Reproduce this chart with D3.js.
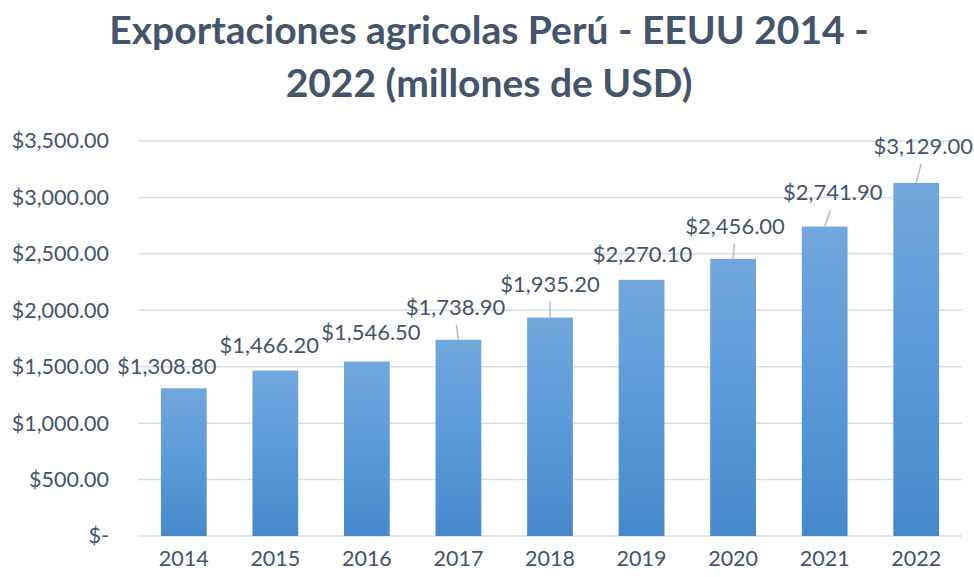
<!DOCTYPE html>
<html>
<head>
<meta charset="utf-8">
<script src="https://cdn.jsdelivr.net/npm/d3@7"></script>
<style>
  body { margin: 0; background: #fff; }
  text { font-family: Lato, "Open Sans", sans-serif; fill: #44546A; }
</style>
</head>
<body>
<div id="chart"></div>
<script>
let width = 974;
let height = 577;

// data
let years = ["2014", "2015", "2016", "2017", "2018", "2019", "2020", "2021", "2022"];
let exports = [1308.8, 1466.2, 1546.5, 1738.9, 1935.2, 2270.1, 2456.0, 2741.9, 3129.0];
let yTicks = [0, 500, 1000, 1500, 2000, 2500, 3000, 3500];
let titleLines = ["Exportaciones agricolas Perú - EEUU 2014 -", "2022 (millones de USD)"];

// manual label placement (px, relative to bar top centre), like Excel dragged labels
let labelShift = [[-17, -22], [-6, -25], [4, -29], [-3, -33], [0, -34], [1, -26], [2, -33], [8, -34], [7, -37]];

let svg = d3.select("#chart")
	.append("svg")
	.attr("width", width).attr("height", height);

let x = d3.scaleBand().domain(years).range([138, 962]).paddingInner(0.5).paddingOuter(0.25);
let y = d3.scaleLinear().domain([0, 3500]).range([536, 141]);

let fmt = d3.format("$,.2f");
let money = v => v === 0 ? "$-" : fmt(v);

// gradient for the bars
let grad = svg.append("defs").append("linearGradient")
	.attr("id", "barGrad").attr("x1", 0).attr("y1", 0).attr("x2", 0).attr("y2", 1);
grad.append("stop").attr("offset", "0%").attr("stop-color", "#71A7DC");
grad.append("stop").attr("offset", "50%").attr("stop-color", "#5A9ADA");
grad.append("stop").attr("offset", "100%").attr("stop-color", "#4689CA");

// title
svg.append("g").selectAll("text").data(titleLines)
	.join("text")
	.attr("x", width / 2 + 2)
	.attr("y", (d, i) => 44 + i * 53)
	.attr("text-anchor", "middle")
	.style("font-size", "39px")
	.style("font-weight", "bold")
	.text(d => d);

// gridlines
svg.append("g").selectAll("line").data(yTicks)
	.join("line")
	.attr("x1", 138).attr("x2", 962)
	.attr("y1", d => y(d)).attr("y2", d => y(d))
	.attr("stroke", "#D9DDE3")
	.attr("stroke-width", 1.5);

// y axis labels
let yAxis = d3.axisLeft(y).tickValues(yTicks).tickFormat(money).tickSize(0).tickPadding(0);
svg.append("g").attr("transform", "translate(109,0)").call(yAxis)
	.call(g => g.select(".domain").remove())
	.selectAll("text")
	.attr("fill", "#44546A")
	.style("font-size", "21.5px")
	.style("font-family", "Lato, sans-serif");

// x axis labels
let xAxis = d3.axisBottom(x).tickSize(0).tickPadding(0);
svg.append("g").attr("transform", "translate(0,551)").call(xAxis)
	.call(g => g.select(".domain").remove())
	.selectAll("text")
	.attr("fill", "#44546A")
	.style("font-size", "21.5px")
	.style("font-family", "Lato, sans-serif");

// bars
svg.append("g").selectAll("rect").data(exports)
	.join("rect")
	.attr("x", (d, i) => x(years[i]))
	.attr("y", d => y(d))
	.attr("width", x.bandwidth())
	.attr("height", d => y(0) - y(d))
	.attr("fill", "url(#barGrad)");

// leader lines
let cx = i => x(years[i]) + x.bandwidth() / 2;
svg.append("g").selectAll("line")
	.data(exports.map((d, i) => ({ v: d, i: i })).filter(d => labelShift[d.i][1] < -31))
	.join("line")
	.attr("x1", d => cx(d.i) + labelShift[d.i][0] * 0.7)
	.attr("y1", d => y(d.v) + labelShift[d.i][1] + 18)
	.attr("x2", d => cx(d.i))
	.attr("y2", d => y(d.v))
	.attr("stroke", "#AFBBCB")
	.attr("stroke-width", 1.5);

// data labels
svg.append("g").selectAll("text").data(exports)
	.join("text")
	.attr("x", (d, i) => cx(i) + labelShift[i][0])
	.attr("y", (d, i) => y(d) + labelShift[i][1])
	.attr("dy", "0.36em")
	.attr("text-anchor", "middle")
	.style("font-size", "22px")
	.text(d => money(d));
</script>
</body>
</html>
